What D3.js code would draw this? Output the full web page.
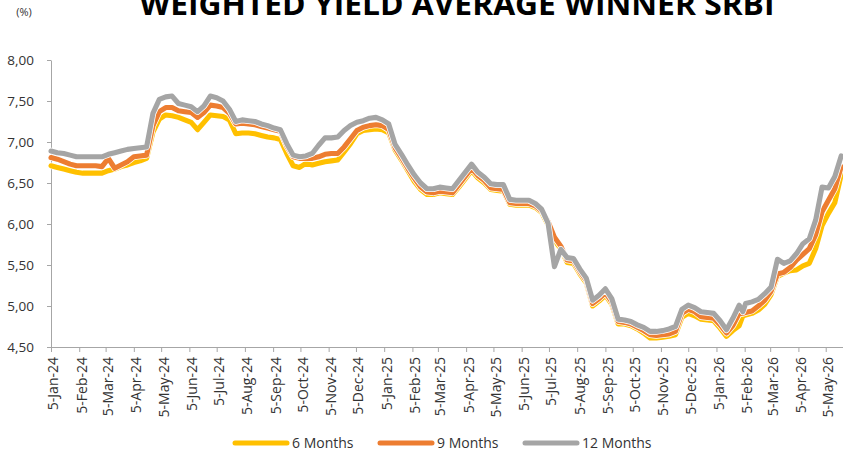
<!DOCTYPE html>
<html>
<head>
<meta charset="utf-8">
<script src="https://cdn.jsdelivr.net/npm/d3@7"></script>
<style>
  body { margin: 0; background: #fff; }
  .axis path, .axis line { stroke: #a6a6a6; }
  .axis text { font-family: "Open Sans", sans-serif; font-size: 13.5px; fill: #333; }
</style>
</head>
<body>
<div class="chart"></div>
<script>
// weekly auction dates (plus one extra on 3 Feb 2026)
const dates = [
  "2024-01-05","2024-01-12","2024-01-19","2024-01-26","2024-02-02","2024-02-09","2024-02-16","2024-02-23",
  "2024-03-01","2024-03-08","2024-03-15","2024-03-22","2024-03-29","2024-04-05","2024-04-12","2024-04-19",
  "2024-04-26","2024-05-03","2024-05-10","2024-05-17","2024-05-24","2024-05-31","2024-06-07","2024-06-14",
  "2024-06-21","2024-06-28","2024-07-05","2024-07-12","2024-07-19","2024-07-26","2024-08-02","2024-08-09",
  "2024-08-16","2024-08-23","2024-08-30","2024-09-06","2024-09-13","2024-09-20","2024-09-27","2024-10-04",
  "2024-10-11","2024-10-18","2024-10-25","2024-11-01","2024-11-08","2024-11-15","2024-11-22","2024-11-29",
  "2024-12-06","2024-12-13","2024-12-20","2024-12-27","2025-01-03","2025-01-10","2025-01-17","2025-01-24",
  "2025-01-31","2025-02-07","2025-02-14","2025-02-21","2025-02-28","2025-03-07","2025-03-14","2025-03-21",
  "2025-03-28","2025-04-04","2025-04-11","2025-04-18","2025-04-25","2025-05-02","2025-05-09","2025-05-16",
  "2025-05-23","2025-05-30","2025-06-06","2025-06-13","2025-06-20","2025-06-27","2025-07-04","2025-07-11",
  "2025-07-18","2025-07-25","2025-08-01","2025-08-08","2025-08-15","2025-08-22","2025-08-29","2025-09-05",
  "2025-09-12","2025-09-19","2025-09-26","2025-10-03","2025-10-10","2025-10-17","2025-10-24","2025-10-31",
  "2025-11-07","2025-11-14","2025-11-21","2025-11-28","2025-12-05","2025-12-12","2025-12-19","2025-12-26",
  "2026-01-02","2026-01-09","2026-01-16","2026-01-23","2026-01-30","2026-02-03","2026-02-06","2026-02-13",
  "2026-02-20","2026-02-27","2026-03-06","2026-03-13","2026-03-20","2026-03-27","2026-04-03","2026-04-10",
  "2026-04-17","2026-04-24","2026-05-01","2026-05-08","2026-05-15","2026-05-22"
];

const m6 = [
  6.71,6.69,6.67,6.65,6.63,6.62,6.62,6.62, 6.62,6.65,6.67,6.70,6.72,6.75,6.77,6.80,
  7.12,7.28,7.33,7.32,7.30,7.27,7.24,7.15, 7.24,7.33,7.32,7.31,7.27,7.10,7.11,7.11,
  7.10,7.08,7.06,7.05,7.03,6.86,6.71,6.69, 6.74,6.72,6.74,6.76,6.77,6.78,6.88,6.98,
  7.10,7.14,7.15,7.16,7.15,7.11,6.90,6.78, 6.65,6.52,6.42,6.36,6.36,6.38,6.37,6.36,
  6.45,6.55,6.65,6.56,6.50,6.42,6.41,6.40, 6.24,6.23,6.23,6.23,6.20,6.14,5.99,5.80,
  5.70,5.53,5.52,5.39,5.28,5.00,5.06,5.13, 5.02,4.78,4.78,4.76,4.72,4.67,4.61,4.61,
  4.62,4.63,4.65,4.86,4.91,4.88,4.84,4.83, 4.82,4.73,4.63,4.70,4.76,4.88,4.89,4.91,
  4.95,5.02,5.14,5.36,5.40,5.43,5.44,5.49, 5.52,5.70,5.98,6.13,6.26,6.60
];

const m9 = [
  6.81,6.79,6.76,6.73,6.71,6.71,6.71,6.71, 6.70,6.80,6.68,6.72,6.76,6.82,6.83,6.84,
  7.20,7.37,7.42,7.42,7.38,7.37,7.36,7.30, 7.36,7.45,7.44,7.42,7.35,7.22,7.23,7.22,
  7.21,7.19,7.17,7.15,7.13,6.95,6.82,6.80, 6.80,6.80,6.82,6.85,6.86,6.86,6.94,7.04,
  7.14,7.18,7.20,7.21,7.20,7.15,6.93,6.81, 6.68,6.56,6.45,6.39,6.38,6.40,6.39,6.38,
  6.48,6.58,6.68,6.59,6.53,6.44,6.43,6.42, 6.26,6.25,6.25,6.25,6.22,6.16,6.03,5.84,
  5.73,5.56,5.55,5.42,5.31,5.03,5.09,5.16, 5.05,4.81,4.80,4.78,4.74,4.70,4.65,4.64,
  4.65,4.66,4.69,4.91,4.96,4.93,4.87,4.86, 4.85,4.77,4.67,4.76,4.91,4.91,4.92,4.94,
  5.00,5.07,5.18,5.39,5.41,5.47,5.56,5.63, 5.70,5.87,6.15,6.29,6.43,6.70
];

const m12 = [
  6.89,6.87,6.86,6.84,6.82,6.82,6.82,6.82, 6.82,6.85,6.87,6.89,6.91,6.92,6.93,6.94,
  7.35,7.52,7.55,7.56,7.47,7.45,7.43,7.37, 7.44,7.56,7.54,7.50,7.40,7.25,7.27,7.26,
  7.25,7.22,7.20,7.17,7.15,6.98,6.84,6.82, 6.83,6.86,6.96,7.05,7.05,7.06,7.14,7.20,
  7.24,7.26,7.29,7.30,7.27,7.22,6.97,6.85, 6.72,6.60,6.50,6.43,6.43,6.45,6.44,6.43,
  6.53,6.63,6.73,6.63,6.57,6.49,6.48,6.48, 6.30,6.29,6.29,6.29,6.25,6.18,6.01,5.48,
  5.69,5.59,5.58,5.45,5.34,5.07,5.13,5.21, 5.09,4.84,4.83,4.81,4.77,4.74,4.69,4.69,
  4.70,4.72,4.75,4.96,5.01,4.98,4.93,4.92, 4.91,4.82,4.71,4.85,5.01,4.93,5.03,5.05,
  5.08,5.15,5.23,5.57,5.52,5.55,5.64,5.76, 5.82,6.05,6.45,6.44,6.58,6.83
];

const seriesNames = ["6 Months", "9 Months", "12 Months"];
const seriesColors = ["#ffc000", "#ed7d31", "#a5a5a5"];
const yTicks = [4.5, 5.0, 5.5, 6.0, 6.5, 7.0, 7.5, 8.0];
const xStart = "2024-01-05", xEnd = "2026-05-24";

const W = 843, H = 454;
const margin = {left: 51, right: 843, top: 60, bottom: 347};

const parse = d3.timeParse("%Y-%m-%d");
const idLocale = d3.formatLocale({decimal: ",", thousands: ".", grouping: [3], currency: ["Rp", ""]});
const fmtY = idLocale.format(".2f");
const fmtX = d3.timeFormat("%-d-%b-%y");

const svg = d3.select(".chart").append("svg")
  .attr("width", W)
  .attr("height", H);

const xScale = d3.scaleTime().domain([parse(xStart), parse(xEnd)]).range([margin.left, margin.right]);
const yScale = d3.scaleLinear().domain([4.5, 8]).range([margin.bottom, margin.top]);

// title, partly cut off at the top like the original
svg.append("text")
  .attr("x", 457).attr("y", 15)
  .attr("text-anchor", "middle")
  .attr("textLength", 635).attr("lengthAdjust", "spacingAndGlyphs")
  .style("font-family", "'Open Sans', sans-serif")
  .style("font-weight", 700)
  .style("font-size", "30px")
  .style("fill", "#000")
  .text("WEIGHTED YIELD AVERAGE WINNER SRBI");

svg.append("text")
  .attr("x", 24).attr("y", 16)
  .attr("text-anchor", "middle")
  .style("font-family", "'Open Sans', sans-serif")
  .style("font-size", "11px")
  .style("fill", "#333")
  .text("(%)");

// axes
const monthTicks = d3.timeMonth.range(parse("2024-01-01"), parse("2026-05-02"))
  .map(d => d3.timeDay.offset(d, 4));

const xAxis = d3.axisBottom(xScale).tickValues(monthTicks).tickFormat(fmtX)
  .tickSize(5).tickSizeOuter(0);
const yAxis = d3.axisLeft(yScale).tickValues(yTicks).tickFormat(fmtY)
  .tickSize(4).tickSizeOuter(0).tickPadding(13);

svg.append("g")
  .attr("class", "axis y-axis")
  .attr("transform", `translate(${margin.left},0)`)
  .call(yAxis);

const xg = svg.append("g")
  .attr("class", "axis x-axis")
  .attr("transform", `translate(0,${margin.bottom})`)
  .call(xAxis);

xg.selectAll(".tick text")
  .attr("text-anchor", "end")
  .attr("transform", "translate(2,10) rotate(-90)")
  .attr("x", 0).attr("y", 0).attr("dy", "0.35em")
  .style("font-size", "14px");

// lines: 6M first, 12M on top, each with a thin white border
const allSeries = [m6, m9, m12].map((vals, i) => ({
  name: seriesNames[i],
  color: seriesColors[i],
  values: vals.map((v, j) => ({date: parse(dates[j]), v}))
}));

const line = d3.line()
  .x(d => xScale(d.date))
  .y(d => yScale(d.v));

const lines = svg.append("g");
allSeries.forEach(s => {
  lines.append("path")
    .attr("d", line(s.values))
    .attr("fill", "none")
    .attr("stroke", "#fff")
    .attr("stroke-width", 6.6)
    .attr("stroke-linejoin", "round")
    .attr("stroke-linecap", "round");
  lines.append("path")
    .attr("d", line(s.values))
    .attr("fill", "none")
    .attr("stroke", s.color)
    .attr("stroke-width", 5.1)
    .attr("stroke-linejoin", "round")
    .attr("stroke-linecap", "round");
});

// legend
const legendX = [235, 380, 525];
const legend = svg.append("g").attr("transform", "translate(0,443)");
allSeries.forEach((s, i) => {
  legend.append("line")
    .attr("x1", legendX[i]).attr("x2", legendX[i] + 52)
    .attr("y1", 0).attr("y2", 0)
    .attr("stroke", s.color)
    .attr("stroke-width", 5)
    .attr("stroke-linecap", "round");
  legend.append("text")
    .attr("x", legendX[i] + 57).attr("y", 5)
    .style("font-family", "'Open Sans', sans-serif")
    .style("font-size", "14px")
    .style("fill", "#333")
    .text(s.name);
});
</script>
</body>
</html>
